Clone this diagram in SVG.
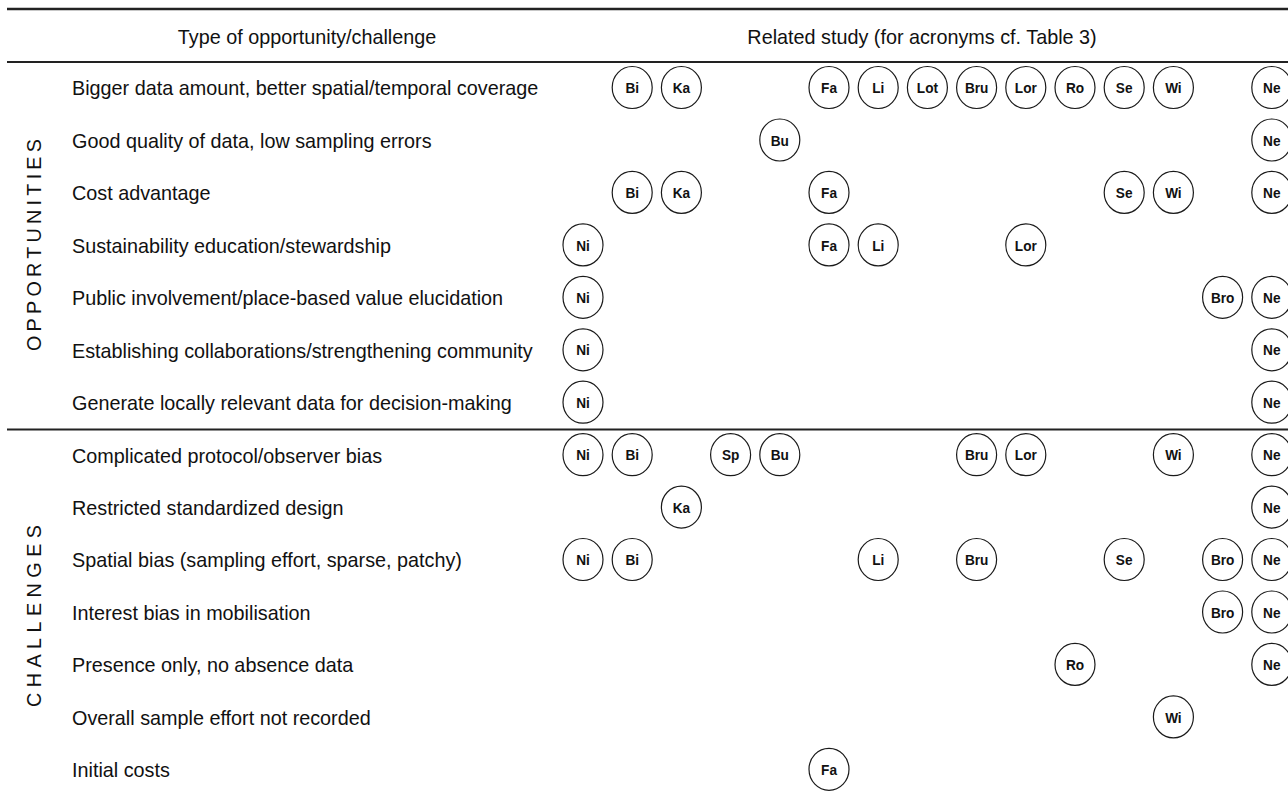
<svg xmlns="http://www.w3.org/2000/svg" width="1288" height="792" viewBox="0 0 1288 792">
<style>
.lbl{font-family:"Liberation Sans",Arial,sans-serif;font-size:19.8px;fill:#111}
.hdr{font-family:"Liberation Sans",Arial,sans-serif;font-size:19.8px;fill:#111;text-anchor:middle}
.side{font-family:"Liberation Sans",Arial,sans-serif;font-size:19.8px;fill:#111;text-anchor:middle}
.rule{stroke:#222;fill:none}
.n ellipse{fill:#fff;stroke:#1a1a1a;stroke-width:1.2}
.n text{font-family:"Liberation Sans",Arial,sans-serif;font-size:15.5px;font-weight:bold;fill:#111;text-anchor:middle;transform:scale(0.88,1)}
</style>
<rect width="1288" height="792" fill="#fff"/>
<g id="rules">
<line class="rule" x1="7" y1="9" x2="1288" y2="9" stroke-width="2.4"/>
<line class="rule" x1="7" y1="62" x2="1288" y2="62" stroke-width="1.9"/>
<line class="rule" x1="7" y1="429.5" x2="1288" y2="429.5" stroke-width="1.9"/>
</g>
<g id="connectors"/>
<g id="header">
<text class="hdr" x="307" y="43.5">Type of opportunity/challenge</text>
<text class="hdr" x="922" y="43.5">Related study (for acronyms cf. Table 3)</text>
</g>
<g id="sidelabels">
<text class="side" transform="translate(40.5,245) rotate(-90)" textLength="212" lengthAdjust="spacing">OPPORTUNITIES</text>
<text class="side" transform="translate(40.5,616) rotate(-90)" textLength="182" lengthAdjust="spacing">CHALLENGES</text>
</g>
<g id="rowlabels">
<text class="lbl" x="72" y="95.3">Bigger data amount, better spatial/temporal coverage</text>
<text class="lbl" x="72" y="147.8">Good quality of data, low sampling errors</text>
<text class="lbl" x="72" y="200.2">Cost advantage</text>
<text class="lbl" x="72" y="252.7">Sustainability education/stewardship</text>
<text class="lbl" x="72" y="305.1">Public involvement/place-based value elucidation</text>
<text class="lbl" x="72" y="357.6">Establishing collaborations/strengthening community</text>
<text class="lbl" x="72" y="410">Generate locally relevant data for decision-making</text>
<text class="lbl" x="72" y="462.5">Complicated protocol/observer bias</text>
<text class="lbl" x="72" y="514.9">Restricted standardized design</text>
<text class="lbl" x="72" y="567.3">Spatial bias (sampling effort, sparse, patchy)</text>
<text class="lbl" x="72" y="619.8">Interest bias in mobilisation</text>
<text class="lbl" x="72" y="672.2">Presence only, no absence data</text>
<text class="lbl" x="72" y="724.7">Overall sample effort not recorded</text>
<text class="lbl" x="72" y="777.1">Initial costs</text>
</g>
<g id="nodes">
<g id="r0-Bi" class="n" transform="translate(632.2,87.5)"><ellipse rx="20" ry="21"/><text y="5.6">Bi</text></g>
<g id="r0-Ka" class="n" transform="translate(681.4,87.5)"><ellipse rx="20" ry="21"/><text y="5.6">Ka</text></g>
<g id="r0-Fa" class="n" transform="translate(829,87.5)"><ellipse rx="20" ry="21"/><text y="5.6">Fa</text></g>
<g id="r0-Li" class="n" transform="translate(878.2,87.5)"><ellipse rx="20" ry="21"/><text y="5.6">Li</text></g>
<g id="r0-Lot" class="n" transform="translate(927.4,87.5)"><ellipse rx="20" ry="21"/><text y="5.6">Lot</text></g>
<g id="r0-Bru" class="n" transform="translate(976.6,87.5)"><ellipse rx="20" ry="21"/><text y="5.6">Bru</text></g>
<g id="r0-Lor" class="n" transform="translate(1025.8,87.5)"><ellipse rx="20" ry="21"/><text y="5.6">Lor</text></g>
<g id="r0-Ro" class="n" transform="translate(1075,87.5)"><ellipse rx="20" ry="21"/><text y="5.6">Ro</text></g>
<g id="r0-Se" class="n" transform="translate(1124.2,87.5)"><ellipse rx="20" ry="21"/><text y="5.6">Se</text></g>
<g id="r0-Wi" class="n" transform="translate(1173.4,87.5)"><ellipse rx="20" ry="21"/><text y="5.6">Wi</text></g>
<g id="r0-Ne" class="n" transform="translate(1271.8,87.5)"><ellipse rx="20" ry="21"/><text y="5.6">Ne</text></g>
<g id="r1-Bu" class="n" transform="translate(779.8,140)"><ellipse rx="20" ry="21"/><text y="5.6">Bu</text></g>
<g id="r1-Ne" class="n" transform="translate(1271.8,140)"><ellipse rx="20" ry="21"/><text y="5.6">Ne</text></g>
<g id="r2-Bi" class="n" transform="translate(632.2,192.4)"><ellipse rx="20" ry="21"/><text y="5.6">Bi</text></g>
<g id="r2-Ka" class="n" transform="translate(681.4,192.4)"><ellipse rx="20" ry="21"/><text y="5.6">Ka</text></g>
<g id="r2-Fa" class="n" transform="translate(829,192.4)"><ellipse rx="20" ry="21"/><text y="5.6">Fa</text></g>
<g id="r2-Se" class="n" transform="translate(1124.2,192.4)"><ellipse rx="20" ry="21"/><text y="5.6">Se</text></g>
<g id="r2-Wi" class="n" transform="translate(1173.4,192.4)"><ellipse rx="20" ry="21"/><text y="5.6">Wi</text></g>
<g id="r2-Ne" class="n" transform="translate(1271.8,192.4)"><ellipse rx="20" ry="21"/><text y="5.6">Ne</text></g>
<g id="r3-Ni" class="n" transform="translate(583,244.9)"><ellipse rx="20" ry="21"/><text y="5.6">Ni</text></g>
<g id="r3-Fa" class="n" transform="translate(829,244.9)"><ellipse rx="20" ry="21"/><text y="5.6">Fa</text></g>
<g id="r3-Li" class="n" transform="translate(878.2,244.9)"><ellipse rx="20" ry="21"/><text y="5.6">Li</text></g>
<g id="r3-Lor" class="n" transform="translate(1025.8,244.9)"><ellipse rx="20" ry="21"/><text y="5.6">Lor</text></g>
<g id="r4-Ni" class="n" transform="translate(583,297.3)"><ellipse rx="20" ry="21"/><text y="5.6">Ni</text></g>
<g id="r4-Bro" class="n" transform="translate(1222.6,297.3)"><ellipse rx="20" ry="21"/><text y="5.6">Bro</text></g>
<g id="r4-Ne" class="n" transform="translate(1271.8,297.3)"><ellipse rx="20" ry="21"/><text y="5.6">Ne</text></g>
<g id="r5-Ni" class="n" transform="translate(583,349.8)"><ellipse rx="20" ry="21"/><text y="5.6">Ni</text></g>
<g id="r5-Ne" class="n" transform="translate(1271.8,349.8)"><ellipse rx="20" ry="21"/><text y="5.6">Ne</text></g>
<g id="r6-Ni" class="n" transform="translate(583,402.2)"><ellipse rx="20" ry="21"/><text y="5.6">Ni</text></g>
<g id="r6-Ne" class="n" transform="translate(1271.8,402.2)"><ellipse rx="20" ry="21"/><text y="5.6">Ne</text></g>
<g id="r7-Ni" class="n" transform="translate(583,454.7)"><ellipse rx="20" ry="21"/><text y="5.6">Ni</text></g>
<g id="r7-Bi" class="n" transform="translate(632.2,454.7)"><ellipse rx="20" ry="21"/><text y="5.6">Bi</text></g>
<g id="r7-Sp" class="n" transform="translate(730.6,454.7)"><ellipse rx="20" ry="21"/><text y="5.6">Sp</text></g>
<g id="r7-Bu" class="n" transform="translate(779.8,454.7)"><ellipse rx="20" ry="21"/><text y="5.6">Bu</text></g>
<g id="r7-Bru" class="n" transform="translate(976.6,454.7)"><ellipse rx="20" ry="21"/><text y="5.6">Bru</text></g>
<g id="r7-Lor" class="n" transform="translate(1025.8,454.7)"><ellipse rx="20" ry="21"/><text y="5.6">Lor</text></g>
<g id="r7-Wi" class="n" transform="translate(1173.4,454.7)"><ellipse rx="20" ry="21"/><text y="5.6">Wi</text></g>
<g id="r7-Ne" class="n" transform="translate(1271.8,454.7)"><ellipse rx="20" ry="21"/><text y="5.6">Ne</text></g>
<g id="r8-Ka" class="n" transform="translate(681.4,507.1)"><ellipse rx="20" ry="21"/><text y="5.6">Ka</text></g>
<g id="r8-Ne" class="n" transform="translate(1271.8,507.1)"><ellipse rx="20" ry="21"/><text y="5.6">Ne</text></g>
<g id="r9-Ni" class="n" transform="translate(583,559.5)"><ellipse rx="20" ry="21"/><text y="5.6">Ni</text></g>
<g id="r9-Bi" class="n" transform="translate(632.2,559.5)"><ellipse rx="20" ry="21"/><text y="5.6">Bi</text></g>
<g id="r9-Li" class="n" transform="translate(878.2,559.5)"><ellipse rx="20" ry="21"/><text y="5.6">Li</text></g>
<g id="r9-Bru" class="n" transform="translate(976.6,559.5)"><ellipse rx="20" ry="21"/><text y="5.6">Bru</text></g>
<g id="r9-Se" class="n" transform="translate(1124.2,559.5)"><ellipse rx="20" ry="21"/><text y="5.6">Se</text></g>
<g id="r9-Bro" class="n" transform="translate(1222.6,559.5)"><ellipse rx="20" ry="21"/><text y="5.6">Bro</text></g>
<g id="r9-Ne" class="n" transform="translate(1271.8,559.5)"><ellipse rx="20" ry="21"/><text y="5.6">Ne</text></g>
<g id="r10-Bro" class="n" transform="translate(1222.6,612)"><ellipse rx="20" ry="21"/><text y="5.6">Bro</text></g>
<g id="r10-Ne" class="n" transform="translate(1271.8,612)"><ellipse rx="20" ry="21"/><text y="5.6">Ne</text></g>
<g id="r11-Ro" class="n" transform="translate(1075,664.4)"><ellipse rx="20" ry="21"/><text y="5.6">Ro</text></g>
<g id="r11-Ne" class="n" transform="translate(1271.8,664.4)"><ellipse rx="20" ry="21"/><text y="5.6">Ne</text></g>
<g id="r12-Wi" class="n" transform="translate(1173.4,716.9)"><ellipse rx="20" ry="21"/><text y="5.6">Wi</text></g>
<g id="r13-Fa" class="n" transform="translate(829,769.3)"><ellipse rx="20" ry="21"/><text y="5.6">Fa</text></g>
</g>
</svg>
